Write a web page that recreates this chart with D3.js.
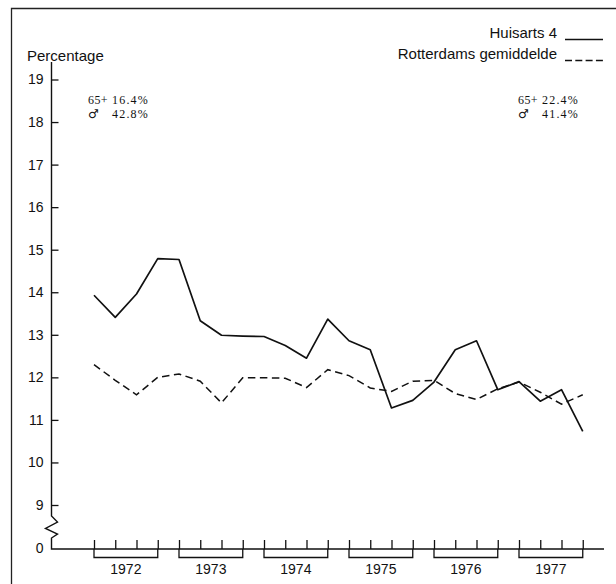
<!DOCTYPE html>
<html>
<head>
<meta charset="utf-8">
<script src="https://cdn.jsdelivr.net/npm/d3@7"></script>
<style>
  body { margin: 0; background: #fff; }
  svg { display: block; }
  text { fill: #111; }
  .sans { font-family: "Liberation Sans", Arial, sans-serif; }
  .serif { font-family: "Liberation Serif", "Times New Roman", serif; }
  .sym { font-family: "DejaVu Sans", sans-serif; }
</style>
</head>
<body>
<svg id="chart"></svg>
<script>
// quarters 1972 Q1 .. 1977 Q4
const years = ['1972', '1973', '1974', '1975', '1976', '1977'];
const quarters = years.flatMap(y => [1, 2, 3, 4].map(q => y + '-' + q));

// Huisarts 4 (solid)
const huisarts = [13.93, 13.41, 13.96, 14.79, 14.77, 13.33, 12.99, 12.97, 12.96, 12.75, 12.45, 13.37,
  12.86, 12.65, 11.28, 11.46, 11.89, 12.65, 12.86, 11.71, 11.90, 11.44, 11.71, 10.73];
// Rotterdams gemiddelde (dashed)
const rotterdam = [12.30, 11.93, 11.59, 12.00, 12.08, 11.91, 11.40, 11.99, 11.99, 11.98, 11.76, 12.18,
  12.04, 11.75, 11.67, 11.91, 11.93, 11.62, 11.48, 11.73, 11.89, 11.65, 11.37, 11.59];

const yTicks = [9, 10, 11, 12, 13, 14, 15, 16, 17, 18, 19];
const leftNote = [['65+', '16.4%'], ['\u2642\uFE0E', '42.8%']];
const rightNote = [['65+', '22.4%'], ['\u2642\uFE0E', '41.4%']];

const width = 616, height = 584;
const svg = d3.select('#chart').attr('width', width).attr('height', height);

const axisX = 51.5, axisY = 549;

const x = d3.scalePoint().domain(quarters).range([94, 582.75]);
const y = d3.scaleLinear().domain([9, 19]).range([505, 79.5]);

// frame
svg.append('path')
  .attr('d', `M11.5,${height} V8.5 H${width}`)
  .attr('fill', 'none').attr('stroke', '#222').attr('stroke-width', 1.3);

// y axis line with break
svg.append('path')
  .attr('d', `M${axisX},62 V516 l6,6 l-12,6.5 l12,5.5 l-6,4 V${axisY} H604`)
  .attr('fill', 'none').attr('stroke', '#111').attr('stroke-width', 1.4);

const yAxis = svg.append('g')
  .attr('class', 'sans')
  .attr('transform', `translate(${axisX},0)`)
  .call(d3.axisLeft(y).tickValues(yTicks).tickSize(-7).tickPadding(8).tickFormat(d3.format('d')));
yAxis.select('.domain').remove();
yAxis.selectAll('line').attr('stroke', '#111').attr('stroke-width', 1.3);
yAxis.selectAll('text').attr('font-size', 14).attr('fill', '#111');

// zero label
svg.append('text').attr('class', 'sans')
  .attr('x', axisX - 8).attr('y', axisY).attr('dy', '0.32em')
  .attr('text-anchor', 'end').attr('font-size', 14).text('0');

svg.append('text').attr('class', 'sans')
  .attr('x', 27).attr('y', 60.5).attr('font-size', 15).text('Percentage');

// x axis quarter ticks
const xAxis = svg.append('g')
  .attr('transform', `translate(0,${axisY})`)
  .call(d3.axisBottom(x).tickSize(-9).tickFormat(''));
xAxis.select('.domain').remove();
xAxis.selectAll('line').attr('stroke', '#111').attr('stroke-width', 1.3);

// year brackets
const yearG = svg.append('g');
years.forEach(yr => {
  const x0 = x(yr + '-1'), x1 = x(yr + '-4');
  yearG.append('path')
    .attr('d', `M${x0},${axisY} V${axisY + 8.5} H${x1} V${axisY}`)
    .attr('fill', 'none').attr('stroke', '#111').attr('stroke-width', 1.3);
  yearG.append('text').attr('class', 'sans')
    .attr('x', (x0 + x1) / 2).attr('y', 573.5)
    .attr('text-anchor', 'middle').attr('font-size', 14).text(yr);
});

// lines
const line = d3.line().x((d, i) => x(quarters[i])).y(d => y(d));
svg.append('path').datum(rotterdam)
  .attr('d', line).attr('fill', 'none').attr('stroke', '#111')
  .attr('stroke-width', 1.5).attr('stroke-dasharray', '7.5,4.5');
svg.append('path').datum(huisarts)
  .attr('d', line).attr('fill', 'none').attr('stroke', '#111')
  .attr('stroke-width', 1.7).attr('stroke-linejoin', 'round');

// legend
const legend = [
  { label: 'Huisarts 4', y: 38, dash: null },
  { label: 'Rotterdams gemiddelde', y: 59, dash: '7,3.3' }
];
legend.forEach(l => {
  svg.append('text').attr('class', 'sans')
    .attr('x', 557).attr('y', l.y).attr('text-anchor', 'end')
    .attr('font-size', 15).text(l.label);
  svg.append('line')
    .attr('x1', 565).attr('x2', 603).attr('y1', l.y + 1.5).attr('y2', l.y + 1.5)
    .attr('stroke', '#111').attr('stroke-width', 1.3)
    .attr('stroke-dasharray', l.dash);
});

// annotations
function note(rows, x0) {
  rows.forEach((r, i) => {
    const by = 103.5 + i * 14;
    svg.append('text').attr('class', i === 1 ? 'sym' : 'serif')
      .attr('x', x0).attr('y', by).attr('font-size', 12)
      .attr('letter-spacing', i === 1 ? 0 : 0.4).text(r[0]);
    svg.append('text').attr('class', 'serif')
      .attr('x', x0 + 24).attr('y', by).attr('font-size', 12)
      .attr('letter-spacing', 1.2).text(r[1]);
  });
}
note(leftNote, 88);
note(rightNote, 518);
</script>
</body>
</html>
